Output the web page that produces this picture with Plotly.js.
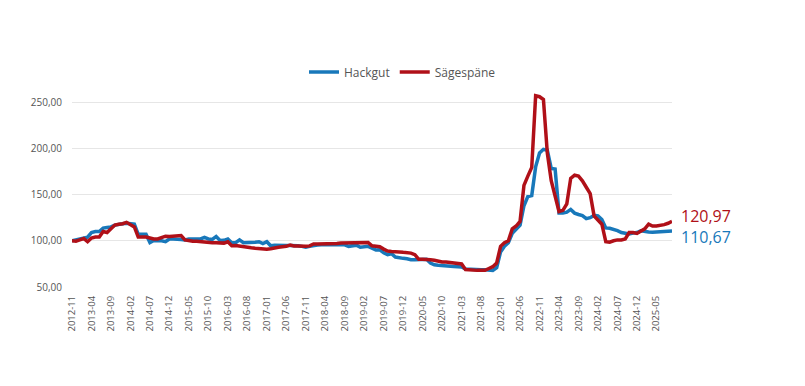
<!DOCTYPE html>
<html>
<head>
<meta charset="utf-8">
<script src="https://cdn.plot.ly/plotly-3.0.1.min.js"></script>
<style>html,body{margin:0;padding:0;background:#fff;}#chart{width:805px;height:386px;}</style>
</head>
<body>
<div id="chart"></div>
<script>
// Monthly index values, 2012-11 .. 2025-09
const startYear = 2012, startMonth = 11;
const hackgut = [
100,101,102,103,104,109,110,110,113.7,114.5,
115,117,118,118.5,119,118.5,118,107,107,107,
98,100.4,100,100,99,102,102,102,101.5,101,
102,102,102,102,103.6,102,101.5,104.7,100.4,100.5,
102,98,98,101,98,98,98,98.5,99,97,
99,94.6,95.3,95,94.6,95,95,95,94.6,94,
93,94,95,95.5,95.7,95.7,95.7,96,96,95.7,
95.7,94,94.5,95.3,93,93.5,94,92,90,90.3,
87,85,86,82.4,81.3,81,80.5,79.5,79.5,79.5,
80,80,76,74,73.5,73,72.5,72.3,72.3,72,
71.6,69.4,69,68.7,68.7,68.7,68.7,68.5,68,71,
88,94,98,108,113,117,138,148,149,180,
195,199,198,178.4,177.7,130,130,131,134,130,
128.5,127.3,124,125,127.5,127,123,114,113.5,112.6,
111,109,108,107.5,108.5,109,110.8,110,109.5,109.4,
109.8,110,110.3,110.5,110.67
];
const saegespaene = [
100,99.5,101,102.5,99,103,104,104,110,109,
113,117,118,118.5,120,117,115,104,104,104,
103,102,102,104,105,104.7,105,104.5,105.7,101,
100,99.5,99.5,99,99,98.5,98,98,97.5,97.5,
99,94.6,95,94.6,93.5,93,92.5,92,91.5,91,
91,91.5,92.5,93,93.5,94,95.5,94.5,94.5,94,
94,94.5,96.5,96.5,96.5,97,97,97,97,97.5,
97.5,97.5,98,98,98,97.5,98.2,94.6,94,93.5,
91,89,88.5,88.5,88,87.5,87,86.7,85,80,
80,80,79.5,79,78,77,77,76.6,76.6,76,
75,69,68.5,68,68,68,68,70,72,76,
94,98,100,113,116,121,160,170,179.5,257,
256,253,195,165,148,131.7,133,140,167.6,171,
170,165,158,151,127,122,118,99,98.6,100,
101,101,102,109,109,108,111,113,118,116,
116,116.5,117.5,119,120.97
];
const seriesNames = ['Hackgut', 'Sägespäne'];
const seriesColors = ['#1878ba', '#b01018'];

const months = [];
for (let i = 0; i < hackgut.length; i++) {
  const m0 = startMonth - 1 + i;
  const y = startYear + Math.floor(m0 / 12);
  const m = (m0 % 12) + 1;
  months.push(y + '-' + String(m).padStart(2, '0'));
}
const tickLabels = months.filter((_, i) => i % 5 === 0);

const fmt = v => v.toFixed(2).replace('.', ',');
const n = months.length;

const traces = [
  {x: months, y: hackgut, name: seriesNames[0], type: 'scatter', mode: 'lines',
   line: {color: seriesColors[0], width: 3.5}},
  {x: months, y: saegespaene, name: seriesNames[1], type: 'scatter', mode: 'lines',
   line: {color: seriesColors[1], width: 3.5}}
];

const layout = {
  width: 805, height: 386,
  margin: {l: 72, r: 133, t: 93, b: 99},
  paper_bgcolor: '#fff', plot_bgcolor: '#fff',
  font: {family: 'Open Sans, sans-serif', color: '#555', size: 10},
  separators: ',.',
  showlegend: true,
  legend: {orientation: 'h', xref: 'container', yref: 'container', x: 0.5, y: 1 - 72/386,
           xanchor: 'center', yanchor: 'middle', font: {size: 12, color: '#555'},
           itemwidth: 30, tracegroupgap: 0},
  xaxis: {type: 'category', range: [0, n - 1], tickmode: 'array', tickvals: tickLabels,
          ticktext: tickLabels, tickangle: -90, showgrid: false, zeroline: false,
          showline: false, ticks: '', ticklabelstandoff: 6, tickfont: {size: 9.5, color: '#555'}},
  yaxis: {range: [50, 260], tickvals: [50, 100, 150, 200, 250], tickformat: '.2f',
          showgrid: true, gridcolor: '#e6e6e6', gridwidth: 1, zeroline: false, showline: false,
          ticks: '', ticklabelstandoff: 9, tickfont: {size: 10, color: '#555'}},
  annotations: [
    {x: months[n - 1], y: saegespaene[n - 1], text: fmt(saegespaene[n - 1]), showarrow: false,
     xanchor: 'left', yanchor: 'middle', xshift: 7, yshift: 5,
     font: {size: 16, color: seriesColors[1]}},
    {x: months[n - 1], y: hackgut[n - 1], text: fmt(hackgut[n - 1]), showarrow: false,
     xanchor: 'left', yanchor: 'middle', xshift: 7, yshift: -6,
     font: {size: 16, color: seriesColors[0]}}
  ]
};

Plotly.newPlot('chart', traces, layout, {displayModeBar: false, staticPlot: true});
</script>
</body>
</html>
